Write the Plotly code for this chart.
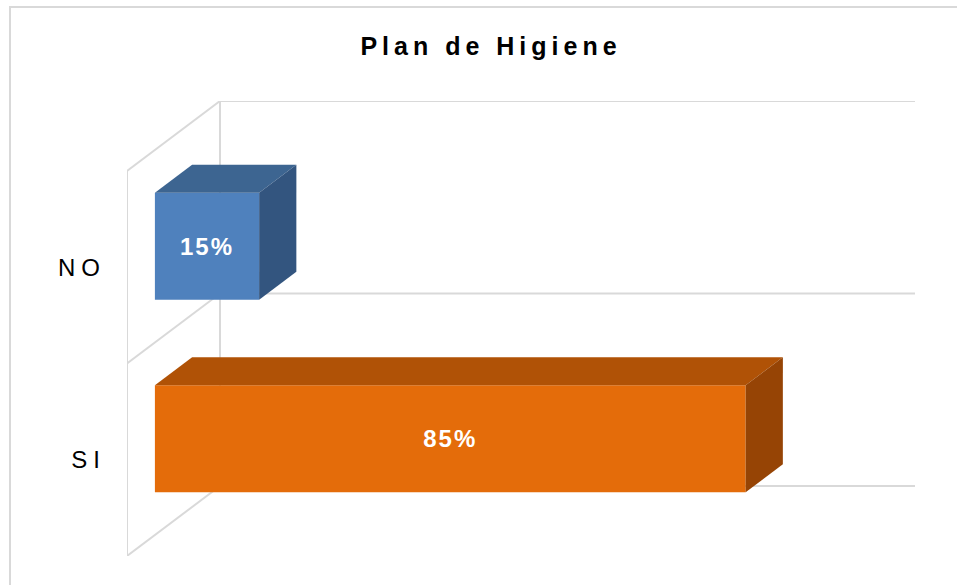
import plotly.graph_objects as go

# Datos
categorias = ["SI", "NO"]
valores = [85, 15]  # porcentaje
colores_frente = ["#E46C0A", "#4F81BD"]
colores_arriba = ["#B05206", "#3D6591"]
colores_lado = ["#964405", "#33557F"]

TITULO = "Plan de Higiene"
VMAX = 100
DX = 93 / 6.95    # profundidad del grafico en unidades de valor
DY = 70 / 192.5   # profundidad del grafico en unidades de categoria
D0, D1 = 0.3, 0.7  # la caja ocupa esta franja de la profundidad
ALTO = 0.556
GRIS = "#D9D9D9"
FUENTE = "Liberation Sans, Arial, sans-serif"

ANCHO_FIG, ALTO_FIG = 957, 585
M = dict(l=127, r=42, t=101, b=29)


def espaciado(texto, px):
    return f'<span style="letter-spacing:{px}px">{texto}</span>'


fig = go.Figure()

# paredes y lineas de division (detras de las cajas)
lim = [i - 0.5 for i in range(len(categorias) + 1)]
lineas = []
for c in lim:
    lineas.append((DX, c + DY, VMAX + DX, c + DY))  # pared del fondo
    lineas.append((0, c, DX, c + DY))               # diagonales del lateral
lineas.append((DX, lim[0] + DY, DX, lim[-1] + DY))
lineas.append((0, lim[0], 0, lim[-1]))
shapes = [
    dict(type="line", xref="x", yref="y", x0=a, y0=b, x1=c, y1=d,
         line=dict(color=GRIS, width=2), layer="below")
    for a, b, c, d in lineas
]

# marco exterior del grafico
pw = ANCHO_FIG - M["l"] - M["r"]
ph = ALTO_FIG - M["t"] - M["b"]
shapes.append(dict(
    type="rect", xref="paper", yref="paper",
    x0=(10 - M["l"]) / pw, x1=(ANCHO_FIG + 5 - M["l"]) / pw,
    y0=-(M["b"] + 5) / ph, y1=(ALTO_FIG - M["b"] - 7) / ph,
    line=dict(color=GRIS, width=2), layer="below",
))

for i, v in enumerate(valores):
    h = ALTO / 2
    # cara frontal
    fig.add_trace(go.Bar(
        orientation="h", x=[v], y=[i + D0 * DY], base=[D0 * DX], width=[ALTO],
        marker=dict(color=colores_frente[i], line_width=0),
        text=[espaciado(f"{v}%", 2)], textposition="inside",
        insidetextanchor="middle", textangle=0,
        insidetextfont=dict(color="white", size=24, family=FUENTE, weight="bold"),
        hoverinfo="skip", showlegend=False,
    ))
    # cara superior
    fig.add_trace(go.Scatter(
        x=[D0 * DX, v + D0 * DX, v + D1 * DX, D1 * DX, D0 * DX],
        y=[i + h + D0 * DY, i + h + D0 * DY, i + h + D1 * DY, i + h + D1 * DY, i + h + D0 * DY],
        mode="lines", fill="toself", fillcolor=colores_arriba[i],
        line=dict(width=0), hoverinfo="skip", showlegend=False,
    ))
    # cara lateral
    fig.add_trace(go.Scatter(
        x=[v + D0 * DX, v + D0 * DX, v + D1 * DX, v + D1 * DX, v + D0 * DX],
        y=[i - h + D0 * DY, i + h + D0 * DY, i + h + D1 * DY, i - h + D1 * DY, i - h + D0 * DY],
        mode="lines", fill="toself", fillcolor=colores_lado[i],
        line=dict(width=0), hoverinfo="skip", showlegend=False,
    ))

fig.update_layout(
    width=ANCHO_FIG, height=ALTO_FIG,
    margin=M,
    barmode="overlay",
    plot_bgcolor="white", paper_bgcolor="white",
    font=dict(family=FUENTE, color="black"),
    title=dict(
        text=espaciado(TITULO, 5),
        x=491 / ANCHO_FIG, xref="container", xanchor="center",
        y=1 - 46 / ALTO_FIG, yref="container", yanchor="middle",
        font=dict(size=25, weight="bold", color="black", family=FUENTE),
    ),
    shapes=shapes,
)
fig.update_xaxes(range=[0, VMAX + DX], visible=False, fixedrange=True)
fig.update_yaxes(
    range=[lim[0], lim[-1] + DY],
    tickvals=list(range(len(categorias))),
    ticktext=[espaciado(c, 6) for c in categorias],
    tickfont=dict(size=24, color="black", family=FUENTE),
    showgrid=False, zeroline=False, showline=False, ticks="",
    ticklabelstandoff=20, fixedrange=True,
)

fig.write_html(
    "out.html",
    config={"displayModeBar": False},
    post_script="document.body.style.margin='0';document.body.style.overflow='hidden';",
)
